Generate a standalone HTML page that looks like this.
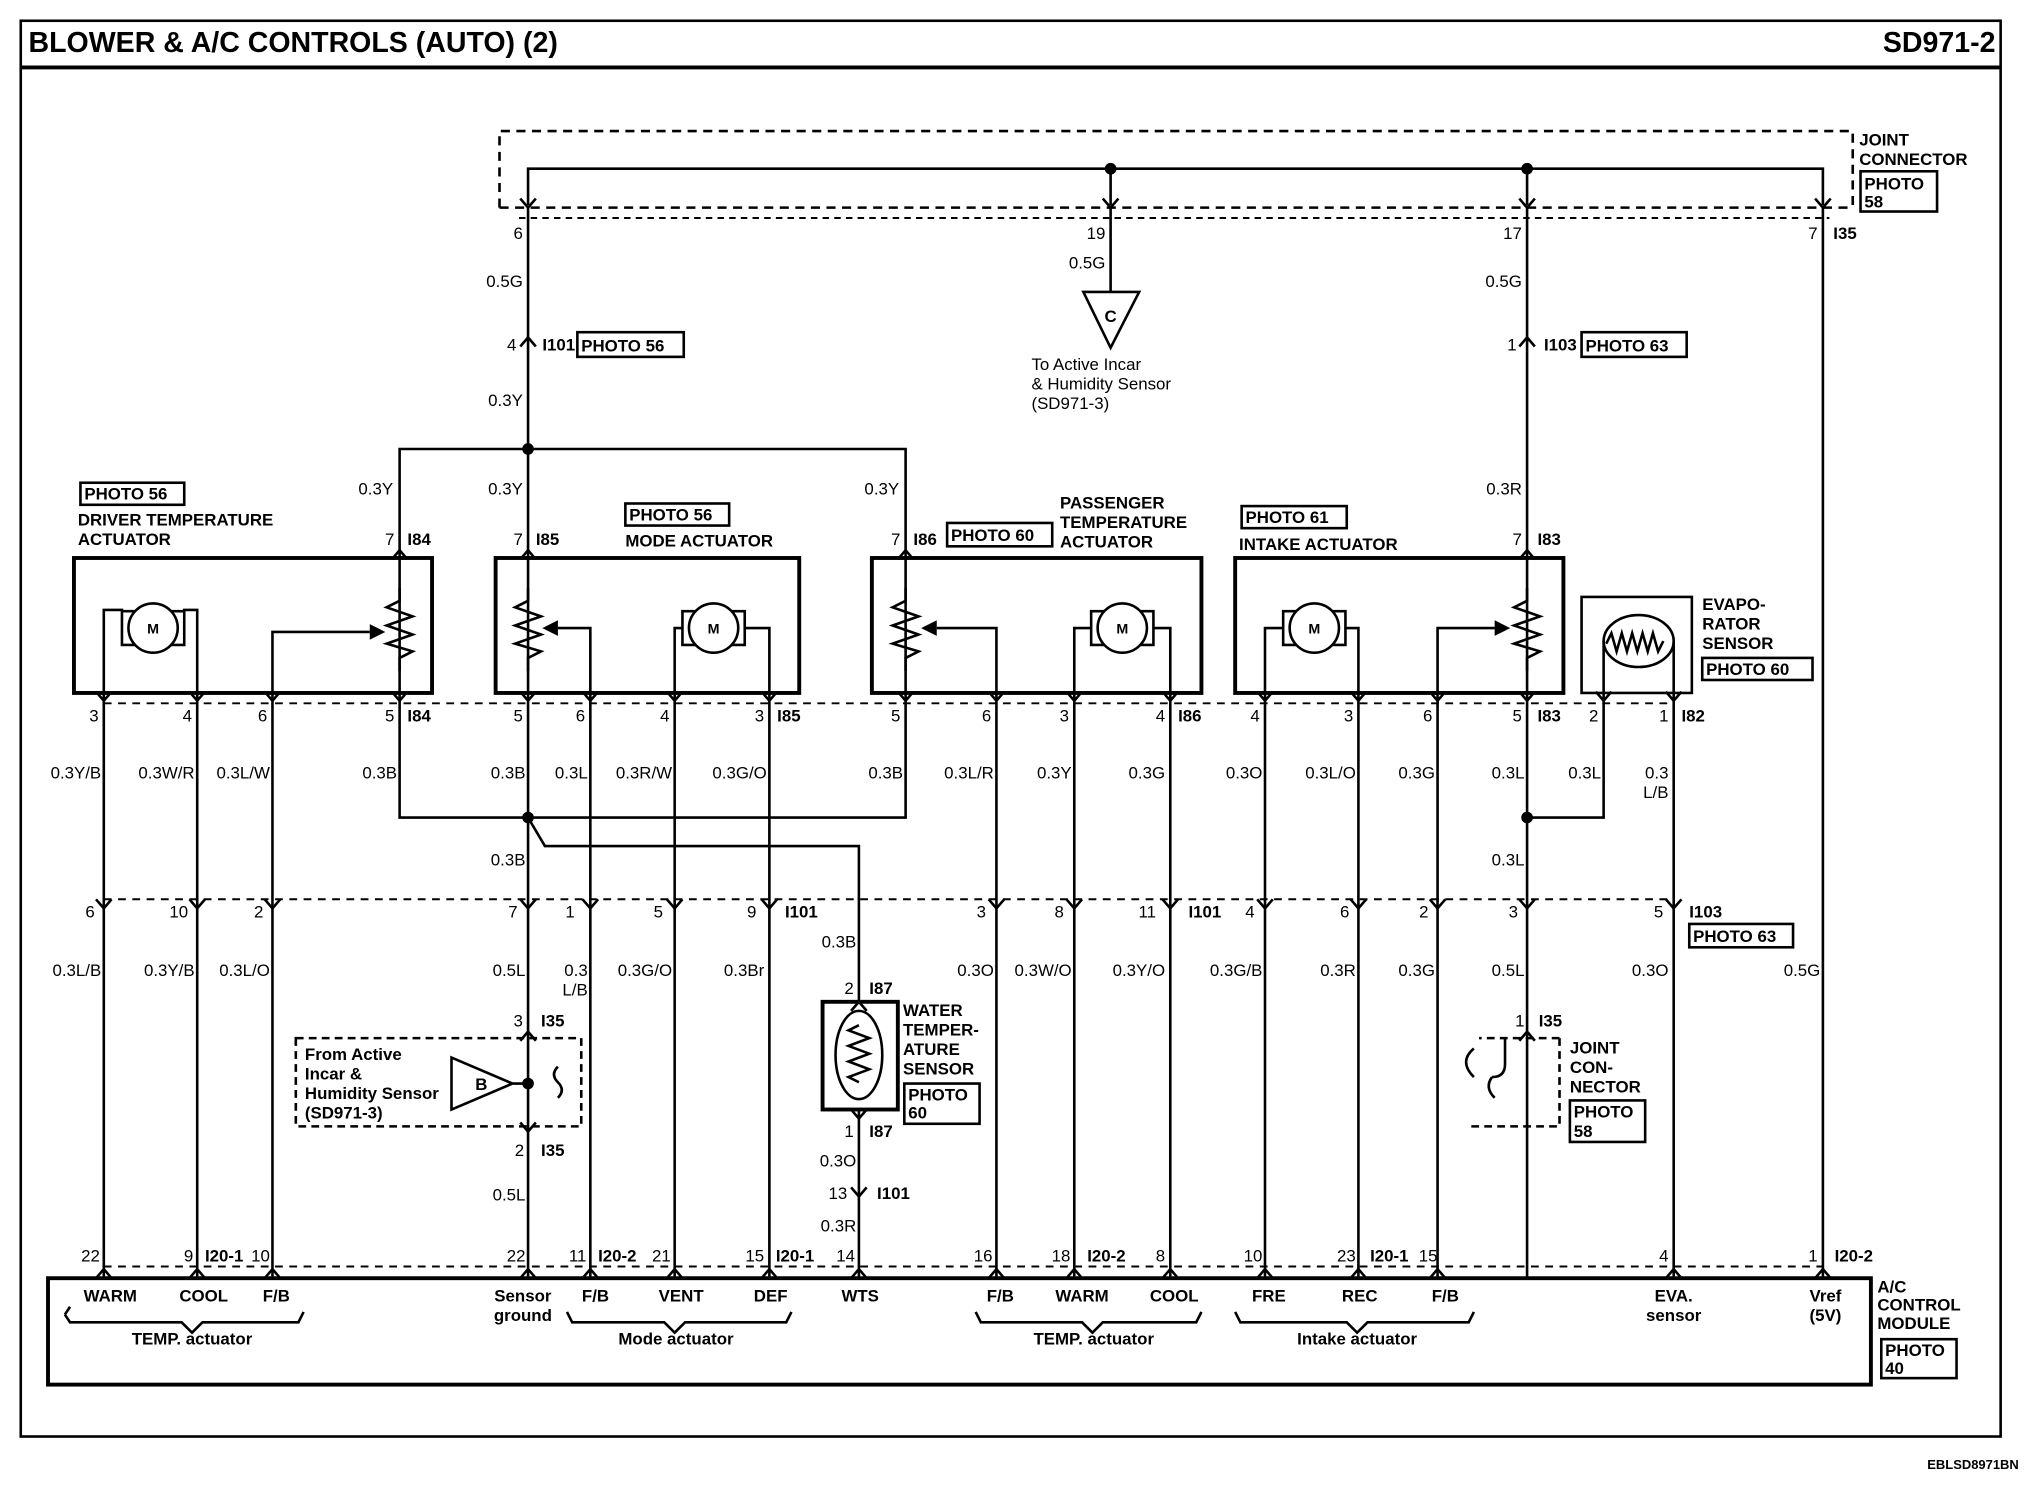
<!DOCTYPE html>
<html><head><meta charset="utf-8"><style>
html,body{margin:0;padding:0;background:#fff}
svg{display:block}
text{font-family:"Liberation Sans",Arial,sans-serif;font-size:13px;fill:#000}
.b{font-weight:bold}
.s{font-size:12px}
</style></head><body>
<svg width="2024" height="1504" viewBox="0 0 1560 1159" preserveAspectRatio="none" xmlns="http://www.w3.org/2000/svg">
<defs>
<path id="dn" d="M-6,-7 L0,0 L6,-7" fill="none" stroke="#000" stroke-width="2"/>
<path id="up" d="M-6,7 L0,0 L6,7" fill="none" stroke="#000" stroke-width="2"/>
<g id="mot"><rect x="-24" y="-13" width="48" height="26" fill="#fff" stroke="#000" stroke-width="2"/><circle r="19" fill="#fff" stroke="#000" stroke-width="2"/></g>
<path id="res" d="M0,-32 L0,-22 L-10,-17 L10,-10 L-10,-3 L10,4 L-10,11 L10,17 L0,22 L0,32" fill="none" stroke="#000" stroke-width="2"/>
</defs>
<g fill="none" stroke="#000" stroke-width="2">
<!-- frame -->
<rect x="16" y="16" width="1526" height="1091"/>
<line x1="16" y1="52" x2="1542" y2="52" stroke-width="3"/>
<!-- joint connector top -->
<path d="M385,160 L385,101 L1428,101 L1428,160" stroke-dasharray="7,5"/>
<line x1="385" y1="160" x2="1428" y2="160" stroke-dasharray="7,5"/>
<line x1="400" y1="168" x2="1410" y2="168" stroke-dasharray="5,4" stroke-width="1.5"/>
<path d="M407,158 L407,130 L1405,130 L1405,158"/>
<line x1="856" y1="130" x2="856" y2="158"/>
<line x1="1177" y1="130" x2="1177" y2="158"/>
<!-- verticals main -->
<line x1="407" y1="160" x2="407" y2="346"/>
<line x1="856" y1="160" x2="856" y2="225"/>
<polygon points="835,225 878,225 856,268"/>
<line x1="1177" y1="160" x2="1177" y2="430"/>
<line x1="1405" y1="160" x2="1405" y2="985"/>
<!-- top junction -->
<path d="M308,430 L308,346 L698,346 L698,430"/>
<line x1="407" y1="346" x2="407" y2="430"/>
<!-- boxes -->
<rect x="57" y="430" width="276" height="104" stroke-width="3"/>
<rect x="382" y="430" width="234" height="104" stroke-width="3"/>
<rect x="672" y="430" width="254" height="104" stroke-width="3"/>
<rect x="952" y="430" width="253" height="104" stroke-width="3"/>
<rect x="1219" y="460" width="85" height="74" stroke-width="2"/>
<!-- dashed pin lines -->
<line x1="80" y1="542" x2="1290" y2="542" stroke-dasharray="6,5" stroke-width="1.5"/>
<line x1="80" y1="693" x2="1290" y2="693" stroke-dasharray="6,5" stroke-width="1.5"/>
<line x1="80" y1="976" x2="1405" y2="976" stroke-dasharray="6,5" stroke-width="1.5"/>
<!-- module -->
<rect x="37" y="985" width="1405" height="82" stroke-width="3"/>
<!-- vertical wires from actuators to module -->
<path d="M80,534 V985 M152,534 V985 M210,534 V985"/>
<path d="M308,534 V630 H698 V534"/>
<path d="M407,534 V985 M455,534 V985 M520,534 V985 M593,534 V985"/>
<path d="M407,630 L420,652 H662 V772"/>
<path d="M662,855 V985"/>
<path d="M768,534 V985 M828,534 V985 M902,534 V985"/>
<path d="M975,534 V985 M1047,534 V985 M1108,534 V985 M1177,534 V985"/>
<path d="M1177,630 H1236 V534"/>
<path d="M1290,534 V985"/>
<!-- driver internals -->
<path d="M80,534 V470 H95 M152,534 V470 H141"/>
<path d="M210,534 V487 H285"/>
<line x1="308" y1="430" x2="308" y2="534"/>
<path d="M407,430 V534 M698,430 V534 M1177,430 V534"/>
<!-- mode -->
<path d="M455,534 V484 H430"/>
<path d="M520,534 V484 H527 M593,534 V484 H574"/>
<!-- passenger -->
<path d="M768,534 V484 H722"/>
<path d="M828,534 V484 H841 M902,534 V484 H889"/>
<!-- intake -->
<path d="M975,534 V484 H989 M1047,534 V484 H1037"/>
<path d="M1108,534 V484 H1152"/>
<!-- evap -->
<path d="M1236,534 V494 M1290,534 V494"/>
<ellipse cx="1263" cy="494" rx="27" ry="20"/>
<path d="M1238,496 l4,-8 l4,14 l4,-14 l4,14 l4,-14 l4,14 l4,-14 l4,14 l4,-14 l4,14 l4,-8"/>
<!-- WTS sensor -->
<rect x="634" y="772" width="58" height="83" stroke-width="3"/>
<ellipse cx="662" cy="813" rx="18" ry="34"/>
<path d="M662,790 l-8,4 l16,6 l-16,6 l16,6 l-16,6 l16,6 l-16,6 l8,4"/>
<!-- B sensor -->
<rect x="228" y="800" width="220" height="68" stroke-dasharray="6,4"/>
<polygon points="348,815 348,855 395,835"/>
<line x1="395" y1="835" x2="407" y2="835"/>
<path d="M430,822 q-6,6 0,12 q6,6 0,12"/>
<!-- right joint connector -->
<path d="M1202,800 V868 H1130 M1202,800 H1140" stroke-dasharray="6,4"/>
<path d="M1136,808 q-12,10 0,22 M1150,830 q10,0 10,-10 V800 M1150,830 q-6,8 2,16"/>
<!-- braces -->
<path d="M50,1013 l4,-6 M50,1013 l4,6 H140 L148,1027 L156,1019 H230 l4,-8" />
<path d="M437,1011 l4,8 H512 L520,1027 L528,1019 H606 l4,-8"/>
<path d="M752,1011 l4,8 H834 L842,1027 L850,1019 H922 l4,-8"/>
<path d="M952,1011 l4,8 H1038 L1046,1027 L1054,1019 H1132 l4,-8"/>
<!-- photo boxes -->
<rect x="445" y="256" width="82" height="19"/>
<rect x="1219" y="256" width="81" height="19"/>
<rect x="62" y="372" width="80" height="17"/>
<rect x="482" y="388" width="80" height="17"/>
<rect x="730" y="403" width="81" height="18"/>
<rect x="957" y="390" width="81" height="17"/>
<rect x="1312" y="507" width="85" height="17"/>
<rect x="1302" y="712" width="80" height="18"/>
<rect x="1434" y="132" width="59" height="31"/>
<rect x="697" y="835" width="58" height="31"/>
<rect x="1210" y="848" width="58" height="32"/>
<rect x="1450" y="1032" width="58" height="30"/>
</g>
<!-- dots -->
<g fill="#000">
<circle cx="856" cy="130" r="4.5"/><circle cx="1177" cy="130" r="4.5"/>
<circle cx="407" cy="346" r="4.5"/><circle cx="407" cy="630" r="4.5"/>
<circle cx="1177" cy="630" r="4.5"/><circle cx="407" cy="835" r="4.5"/>
<polygon points="285,481 297,487 285,493"/>
<polygon points="430,478 418,484 430,490"/>
<polygon points="722,478 710,484 722,490"/>
<polygon points="1152,478 1164,484 1152,490"/>
</g>
<!-- resistors -->
<use href="#res" x="308" y="485"/><use href="#res" x="407" y="485"/>
<use href="#res" x="698" y="485"/><use href="#res" x="1177" y="485"/>
<!-- motors -->
<use href="#mot" x="118" y="484"/><use href="#mot" x="550" y="484"/>
<use href="#mot" x="865" y="484"/><use href="#mot" x="1013" y="484"/>
<g class="b" text-anchor="middle" font-size="11"><text x="118" y="488" style="font-size:11px">M</text><text x="550" y="488" style="font-size:11px">M</text><text x="865" y="488" style="font-size:11px">M</text><text x="1013" y="488" style="font-size:11px">M</text></g>
<!-- chevrons -->
<use href="#dn" x="407" y="160"/><use href="#dn" x="856" y="160"/><use href="#dn" x="1177" y="160"/><use href="#dn" x="1405" y="160"/>
<use href="#up" x="407" y="260"/><use href="#up" x="1177" y="260"/>
<use href="#up" x="308" y="424"/><use href="#up" x="407" y="424"/><use href="#up" x="698" y="424"/><use href="#up" x="1177" y="424"/>
<use href="#dn" x="80" y="540"/><use href="#dn" x="152" y="540"/><use href="#dn" x="210" y="540"/><use href="#dn" x="308" y="540"/>
<use href="#dn" x="407" y="540"/><use href="#dn" x="455" y="540"/><use href="#dn" x="520" y="540"/><use href="#dn" x="593" y="540"/>
<use href="#dn" x="698" y="540"/><use href="#dn" x="768" y="540"/><use href="#dn" x="828" y="540"/><use href="#dn" x="902" y="540"/>
<use href="#dn" x="975" y="540"/><use href="#dn" x="1047" y="540"/><use href="#dn" x="1108" y="540"/><use href="#dn" x="1177" y="540"/>
<use href="#dn" x="1236" y="540"/><use href="#dn" x="1290" y="540"/>
<use href="#dn" x="80" y="700"/><use href="#dn" x="152" y="700"/><use href="#dn" x="210" y="700"/><use href="#dn" x="407" y="700"/>
<use href="#dn" x="455" y="700"/><use href="#dn" x="520" y="700"/><use href="#dn" x="593" y="700"/><use href="#dn" x="768" y="700"/>
<use href="#dn" x="828" y="700"/><use href="#dn" x="902" y="700"/><use href="#dn" x="975" y="700"/><use href="#dn" x="1047" y="700"/>
<use href="#dn" x="1108" y="700"/><use href="#dn" x="1177" y="700"/><use href="#dn" x="1290" y="700"/>
<use href="#up" x="407" y="795"/><use href="#dn" x="407" y="872"/><use href="#up" x="1177" y="795"/>
<use href="#up" x="662" y="772"/><use href="#dn" x="662" y="862"/><use href="#dn" x="662" y="922"/>
<g>
<use href="#up" x="80" y="978"/><use href="#up" x="152" y="978"/><use href="#up" x="210" y="978"/><use href="#up" x="407" y="978"/>
<use href="#up" x="455" y="978"/><use href="#up" x="520" y="978"/><use href="#up" x="593" y="978"/><use href="#up" x="662" y="978"/>
<use href="#up" x="768" y="978"/><use href="#up" x="828" y="978"/><use href="#up" x="902" y="978"/><use href="#up" x="975" y="978"/>
<use href="#up" x="1047" y="978"/><use href="#up" x="1108" y="978"/><use href="#up" x="1290" y="978"/><use href="#up" x="1405" y="978"/>
</g>
<!-- texts -->
<text x="22" y="40" class="b" style="font-size:22px">BLOWER &amp; A/C CONTROLS (AUTO) (2)</text>
<text x="1538" y="40" class="b" text-anchor="end" style="font-size:22px">SD971-2</text>
<text x="1556" y="1132" class="b" text-anchor="end" style="font-size:10px">EBLSD8971BN</text>
<g class="b s">
<text x="1433" y="112">JOINT</text><text x="1433" y="127">CONNECTOR</text>
<text x="1437" y="146">PHOTO</text><text x="1437" y="160">58</text>
<text x="448" y="271">PHOTO 56</text><text x="1222" y="271">PHOTO 63</text>
<text x="65" y="385">PHOTO 56</text>
<text x="60" y="405">DRIVER TEMPERATURE</text><text x="60" y="420">ACTUATOR</text>
<text x="485" y="401">PHOTO 56</text><text x="482" y="421">MODE ACTUATOR</text>
<text x="733" y="417">PHOTO 60</text>
<text x="817" y="392">PASSENGER</text><text x="817" y="407">TEMPERATURE</text><text x="817" y="422">ACTUATOR</text>
<text x="960" y="403">PHOTO 61</text><text x="955" y="424">INTAKE ACTUATOR</text>
<text x="1312" y="470">EVAPO-</text><text x="1312" y="485">RATOR</text><text x="1312" y="500">SENSOR</text>
<text x="1315" y="520">PHOTO 60</text>
<text x="1305" y="726">PHOTO 63</text>
<text x="696" y="783">WATER</text><text x="696" y="798">TEMPER-</text><text x="696" y="813">ATURE</text><text x="696" y="828">SENSOR</text>
<text x="700" y="848">PHOTO</text><text x="700" y="862">60</text>
<text x="1210" y="812">JOINT</text><text x="1210" y="827">CON-</text><text x="1210" y="842">NECTOR</text>
<text x="1213" y="861">PHOTO</text><text x="1213" y="876">58</text>
<text x="1447" y="996">A/C</text><text x="1447" y="1010">CONTROL</text><text x="1447" y="1024">MODULE</text>
<text x="1453" y="1045">PHOTO</text><text x="1453" y="1059">40</text>
<text x="856" y="248" text-anchor="middle">C</text>
<text x="371" y="840" text-anchor="middle">B</text>
<text x="235" y="817">From Active</text><text x="235" y="832">Incar &amp;</text><text x="235" y="847">Humidity Sensor</text><text x="235" y="862">(SD971-3)</text>
</g>
<g class="s">
<text x="795" y="285">To Active Incar</text><text x="795" y="300">&amp; Humidity Sensor</text><text x="795" y="315">(SD971-3)</text>
</g>
<!-- pin numbers -->
<g class="s" text-anchor="end">
<text x="403" y="184">6</text><text x="852" y="184">19</text><text x="1173" y="184">17</text><text x="1401" y="184">7</text>
<text x="403" y="221">0.5G</text><text x="852" y="207">0.5G</text><text x="1173" y="221">0.5G</text>
<text x="398" y="270">4</text><text x="1169" y="270">1</text>
<text x="403" y="313">0.3Y</text><text x="1173" y="381">0.3R</text>
<text x="303" y="381">0.3Y</text><text x="403" y="381">0.3Y</text><text x="693" y="381">0.3Y</text>
<text x="304" y="420">7</text><text x="403" y="420">7</text><text x="694" y="420">7</text><text x="1173" y="420">7</text>
<text x="76" y="556">3</text><text x="148" y="556">4</text><text x="206" y="556">6</text><text x="304" y="556">5</text>
<text x="403" y="556">5</text><text x="451" y="556">6</text><text x="516" y="556">4</text><text x="589" y="556">3</text>
<text x="694" y="556">5</text><text x="764" y="556">6</text><text x="824" y="556">3</text><text x="898" y="556">4</text>
<text x="971" y="556">4</text><text x="1043" y="556">3</text><text x="1104" y="556">6</text><text x="1173" y="556">5</text>
<text x="1232" y="556">2</text><text x="1286" y="556">1</text>
<text x="78" y="600">0.3Y/B</text><text x="150" y="600">0.3W/R</text><text x="208" y="600">0.3L/W</text><text x="306" y="600">0.3B</text>
<text x="405" y="600">0.3B</text><text x="453" y="600">0.3L</text><text x="518" y="600">0.3R/W</text><text x="591" y="600">0.3G/O</text>
<text x="696" y="600">0.3B</text><text x="766" y="600">0.3L/R</text><text x="826" y="600">0.3Y</text><text x="898" y="600">0.3G</text>
<text x="973" y="600">0.3O</text><text x="1045" y="600">0.3L/O</text><text x="1106" y="600">0.3G</text><text x="1175" y="600">0.3L</text>
<text x="1234" y="600">0.3L</text><text x="1286" y="600">0.3</text><text x="1286" y="615">L/B</text>
<text x="405" y="667">0.3B</text><text x="1175" y="667">0.3L</text>
<text x="73" y="707">6</text><text x="145" y="707">10</text><text x="203" y="707">2</text><text x="399" y="707">7</text>
<text x="443" y="707">1</text><text x="511" y="707">5</text><text x="583" y="707">9</text><text x="760" y="707">3</text>
<text x="820" y="707">8</text><text x="891" y="707">11</text><text x="967" y="707">4</text><text x="1040" y="707">6</text>
<text x="1101" y="707">2</text><text x="1170" y="707">3</text><text x="1282" y="707">5</text>
<text x="78" y="752">0.3L/B</text><text x="150" y="752">0.3Y/B</text><text x="208" y="752">0.3L/O</text>
<text x="405" y="752">0.5L</text><text x="453" y="752">0.3</text><text x="453" y="767">L/B</text><text x="518" y="752">0.3G/O</text><text x="589" y="752">0.3Br</text>
<text x="660" y="730">0.3B</text>
<text x="766" y="752">0.3O</text><text x="826" y="752">0.3W/O</text><text x="898" y="752">0.3Y/O</text>
<text x="973" y="752">0.3G/B</text><text x="1045" y="752">0.3R</text><text x="1106" y="752">0.3G</text><text x="1175" y="752">0.5L</text>
<text x="1286" y="752">0.3O</text><text x="1403" y="752">0.5G</text>
<text x="403" y="791">3</text><text x="1175" y="791">1</text><text x="658" y="766">2</text>
<text x="404" y="891">2</text><text x="658" y="876">1</text>
<text x="405" y="925">0.5L</text><text x="660" y="899">0.3O</text><text x="653" y="924">13</text><text x="660" y="949">0.3R</text>
<text x="77" y="972">22</text><text x="149" y="972">9</text><text x="208" y="972">10</text><text x="405" y="972">22</text>
<text x="452" y="972">11</text><text x="517" y="972">21</text><text x="589" y="972">15</text><text x="659" y="972">14</text>
<text x="765" y="972">16</text><text x="825" y="972">18</text><text x="898" y="972">8</text><text x="973" y="972">10</text>
<text x="1045" y="972">23</text><text x="1108" y="972">15</text><text x="1286" y="972">4</text><text x="1401" y="972">1</text>
</g>
<g class="s b">
<text x="1413" y="184">I35</text>
<text x="418" y="270">I101</text><text x="1190" y="270">I103</text>
<text x="314" y="420">I84</text><text x="413" y="420">I85</text><text x="704" y="420">I86</text><text x="1185" y="420">I83</text>
<text x="314" y="556">I84</text><text x="599" y="556">I85</text><text x="908" y="556">I86</text><text x="1185" y="556">I83</text><text x="1296" y="556">I82</text>
<text x="605" y="707">I101</text><text x="916" y="707">I101</text><text x="1302" y="707">I103</text>
<text x="417" y="791">I35</text><text x="1186" y="791">I35</text><text x="670" y="766">I87</text>
<text x="417" y="891">I35</text><text x="670" y="876">I87</text><text x="676" y="924">I101</text>
<text x="158" y="972">I20-1</text><text x="461" y="972">I20-2</text><text x="598" y="972">I20-1</text>
<text x="838" y="972">I20-2</text><text x="1056" y="972">I20-1</text><text x="1414" y="972">I20-2</text>
</g>
<g class="s b" text-anchor="middle">
<text x="85" y="1003">WARM</text><text x="157" y="1003">COOL</text><text x="213" y="1003">F/B</text>
<text x="403" y="1003">Sensor</text><text x="403" y="1018">ground</text>
<text x="459" y="1003">F/B</text><text x="525" y="1003">VENT</text><text x="594" y="1003">DEF</text><text x="663" y="1003">WTS</text>
<text x="771" y="1003">F/B</text><text x="834" y="1003">WARM</text><text x="905" y="1003">COOL</text>
<text x="978" y="1003">FRE</text><text x="1048" y="1003">REC</text><text x="1114" y="1003">F/B</text>
<text x="1290" y="1003">EVA.</text><text x="1290" y="1018">sensor</text>
<text x="1407" y="1003">Vref</text><text x="1407" y="1018">(5V)</text>
<text x="148" y="1036">TEMP. actuator</text><text x="521" y="1036">Mode actuator</text>
<text x="843" y="1036">TEMP. actuator</text><text x="1046" y="1036">Intake actuator</text>
</g>
</svg>
</body></html>
